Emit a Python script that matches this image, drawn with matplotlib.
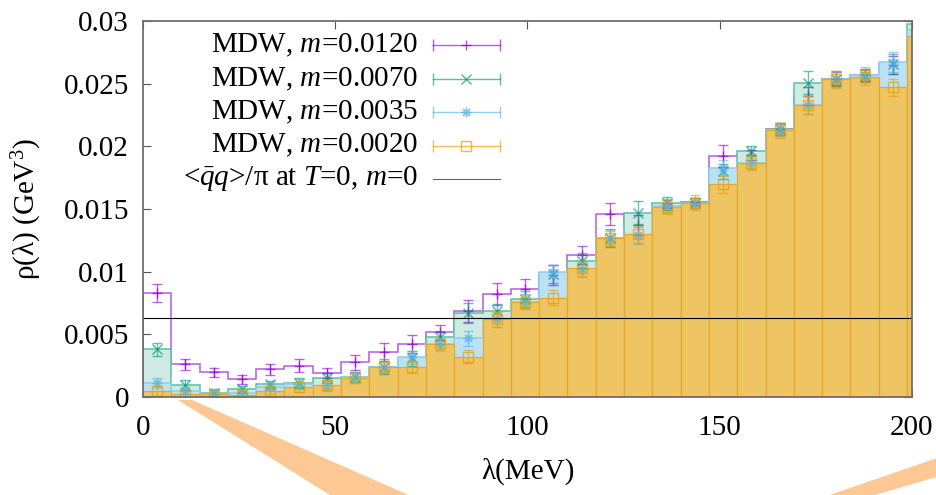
import numpy as np
import matplotlib
matplotlib.use("Agg")
from matplotlib import pyplot as plt
from matplotlib.patches import Polygon

plt.rcParams['font.family'] = ['Liberation Serif', 'DejaVu Serif']
plt.rcParams['mathtext.fontset'] = 'custom'
plt.rcParams['mathtext.rm'] = 'Liberation Serif'
plt.rcParams['mathtext.it'] = 'Liberation Serif:italic'

# bins in MeV
bin_width = 7.36
n_bins = 28

labels = ['MDW, $m$=0.0120', 'MDW, $m$=0.0070', 'MDW, $m$=0.0035', 'MDW, $m$=0.0020']
line_label = r'<$\bar{q}q$>/π at $T$=0, $m$=0'
condensate = 0.00628

rho_0120 = [0.00827, 0.0026, 0.00197, 0.00141, 0.0022, 0.0025, 0.00189, 0.00277, 0.00357, 0.00423,
            0.00516, 0.00686, 0.00822, 0.00862, 0.0097, 0.01135, 0.0146, 0.0137, 0.0154, 0.01558,
            0.01923, 0.0193, 0.0214, 0.0240, 0.0254, 0.0257, 0.0265, 0.0293]
err_0120 = [0.00072, 0.00045, 0.00038, 0.00037, 0.00045, 0.0005, 0.0004, 0.0006, 0.0007, 0.0007,
            0.0006, 0.0009, 0.0009, 0.0008, 0.0008, 0.0007, 0.0009, 0.0008, 0.0003, 0.0003,
            0.0009, 0.0004, 0.0005, 0.0007, 0.0005, 0.0005, 0.0007, 0.0004]

rho_0070 = [0.0038, 0.00096, 0.0003, 0.0006, 0.00101, 0.00114, 0.00149, 0.0016, 0.0024, 0.0031,
            0.00476, 0.00667, 0.00686, 0.00782, 0.0098, 0.01088, 0.0127, 0.0147, 0.01545, 0.0155,
            0.0180, 0.01963, 0.0214, 0.02508, 0.0254, 0.0256, 0.0266, 0.0298]
err_0070 = [0.0005, 0.0004, 0.0003, 0.0003, 0.0003, 0.0004, 0.0004, 0.0004, 0.0006, 0.0006,
            0.0005, 0.0008, 0.0006, 0.0006, 0.0007, 0.0006, 0.0007, 0.0009, 0.0005, 0.0004,
            0.0006, 0.0004, 0.0005, 0.0009, 0.0006, 0.0005, 0.0008, 0.0004]

rho_0035 = [0.00114, 0.0005, 0.00025, 0.00034, 0.00083, 0.00104, 0.0009, 0.00162, 0.0024, 0.00317,
            0.0042, 0.00468, 0.0062, 0.0076, 0.0100, 0.0102, 0.0127, 0.0129, 0.0152, 0.0155,
            0.0183, 0.0187, 0.0213, 0.0233, 0.02535, 0.0257, 0.02673, 0.0293]
err_0035 = [0.0004, 0.0003, 0.0003, 0.0003, 0.0003, 0.0004, 0.0004, 0.0004, 0.0005, 0.0005,
            0.0005, 0.0006, 0.0006, 0.0006, 0.0005, 0.0006, 0.0006, 0.0007, 0.0005, 0.0004,
            0.0006, 0.0005, 0.0005, 0.0007, 0.0006, 0.0006, 0.0008, 0.0004]

rho_0020 = [0.0005, 0.0002, 0.0002, 0.00018, 0.0005, 0.00083, 0.00096, 0.00149, 0.00242, 0.0024,
            0.00423, 0.00322, 0.0062, 0.0076, 0.00792, 0.01027, 0.01266, 0.01298, 0.01519, 0.0155,
            0.01697, 0.0187, 0.0213, 0.0233, 0.02535, 0.02551, 0.0247, 0.02883]
err_0020 = [0.0004, 0.0003, 0.0003, 0.0003, 0.0003, 0.0004, 0.0004, 0.0004, 0.0004, 0.0005,
            0.0004, 0.0005, 0.0006, 0.0005, 0.0006, 0.0006, 0.0006, 0.0007, 0.0006, 0.0006,
            0.0007, 0.0006, 0.0006, 0.0007, 0.0007, 0.0006, 0.0007, 0.0005]

purple = '#9400d3'
green = '#009e73'
blue = '#56b4e9'
orange = '#e69f00'
asterisk = (8, 2, 0)

edges = np.arange(n_bins + 1) * bin_width
centers = edges[:-1] + bin_width / 2

fig = plt.figure(figsize=(9.37, 4.95), dpi=100)
ax = fig.add_axes([143/937, 1 - 397/495, 769/937, 376/495])

# histograms, drawn from the heaviest mass to the lightest
ax.stairs(rho_0120, edges, color=purple, alpha=0.65, linewidth=1.1, zorder=2)
ax.stairs(rho_0070, edges, fill=True, facecolor='#cdebe2', edgecolor='#5cbf9f', linewidth=1.1, zorder=3)
ax.stairs(rho_0035, edges, fill=True, facecolor='#bbe1f6', edgecolor='#8fcdf0', linewidth=1.1, zorder=4)
ax.bar(edges[:-1], rho_0020, width=bin_width, align='edge', color='#efc463',
       edgecolor='#e8a82a', linewidth=0.9, zorder=5)

# error bars with points
series = [(rho_0120, err_0120, purple, '+'),
          (rho_0070, err_0070, green, 'x'),
          (rho_0035, err_0035, blue, asterisk),
          (rho_0020, err_0020, orange, 's')]
for vals, errs, col, mk in series:
    ax.errorbar(centers, vals, yerr=errs, fmt='none', ecolor=col, alpha=0.6,
                elinewidth=1.0, capsize=3.5, capthick=1.0, zorder=6)
    ax.plot(centers, vals, linestyle='none', marker=mk, color=col, alpha=0.7,
            markersize=7, markerfacecolor='none', markeredgewidth=1.0, zorder=6)

ax.axhline(condensate, color='black', linewidth=0.8, zorder=7)

ax.set_xlim(0, 200)
ax.set_ylim(0, 0.03)
ax.set_xticks([0, 50, 100, 150, 200])
ax.set_yticks([0, 0.005, 0.01, 0.015, 0.02, 0.025, 0.03])
ax.set_yticklabels(['0', '0.005', '0.01', '0.015', '0.02', '0.025', '0.03'])
ax.tick_params(direction='in', length=6, width=0.8, labelsize=21, top=True, right=True,
               color='#555555')
ax.tick_params(axis='x', pad=13)
ax.tick_params(axis='y', pad=10)
for sp in ax.spines.values():
    sp.set_color('#6e6e6e')
    sp.set_linewidth(1.3)
    sp.set_zorder(8)

ax.set_xlabel('λ(MeV)', fontsize=21, labelpad=12)
ax.set_ylabel(r'ρ(λ) (GeV$^3$)', fontsize=21, labelpad=14)

# gnuplot style key
rows = [0.936, 0.846, 0.758, 0.668, 0.580]
x_txt, x0, x1 = 0.3576, 0.377, 0.4642
for (vals, errs, col, mk), lab, yy in zip(series, labels, rows[:4]):
    ax.text(x_txt, yy, lab, transform=ax.transAxes, ha='right', va='center', fontsize=21, zorder=9)
    ax.plot([x0, x1], [yy, yy], color=col, lw=1.0, alpha=0.65, transform=ax.transAxes, zorder=9)
    ax.plot([x0, x1], [yy, yy], linestyle='none', marker='|', markersize=8, color=col, alpha=0.65,
            transform=ax.transAxes, zorder=9)
    ax.plot([(x0 + x1) / 2], [yy], linestyle='none', marker=mk, markersize=7, color=col,
            markerfacecolor='none', alpha=0.7, transform=ax.transAxes, zorder=9)
ax.text(x_txt, rows[4], line_label, transform=ax.transAxes, ha='right', va='center', fontsize=21, zorder=9)
ax.plot([x0, x1], [rows[4], rows[4]], color='black', lw=0.8, alpha=0.6, transform=ax.transAxes, zorder=9)

# zoom cone decorations below the frame
W, H = 937, 495
left_cone = [(178, 400), (192, 400), (420, 500), (338, 500)]
right_cone = [(940, 457), (940, 476), (858, 500), (815, 500)]
for pts in (left_cone, right_cone):
    fig.patches.append(Polygon([(px / W, 1 - py / H) for px, py in pts], closed=True,
                               transform=fig.transFigure, facecolor='#fec894',
                               edgecolor='none', zorder=10))

fig.savefig('out.png', dpi=100)
